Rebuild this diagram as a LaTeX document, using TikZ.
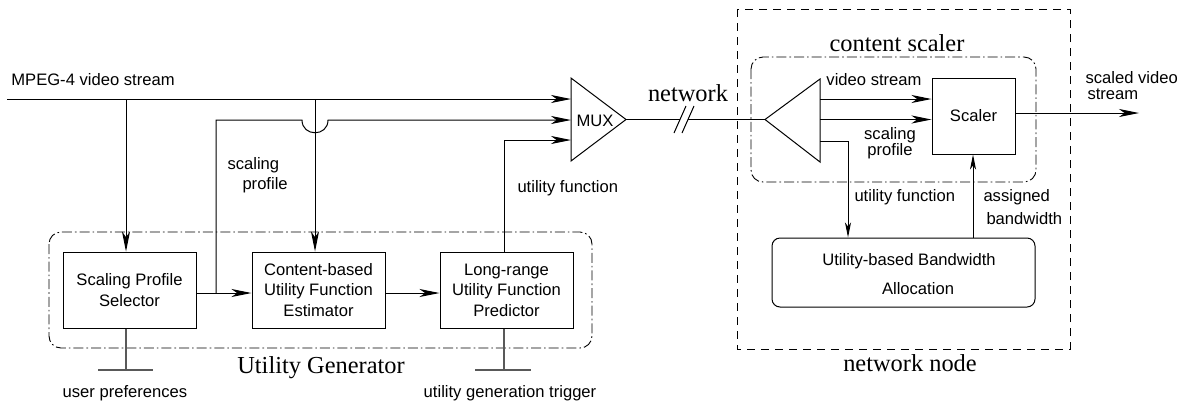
\documentclass[tikz,border=0pt]{standalone}
\usepackage{fontspec}
\setmainfont{Liberation Serif}
\setsansfont{Liberation Sans}
\usetikzlibrary{arrows.meta}
\begin{document}
\begin{tikzpicture}[x=0.5pt,y=-0.5pt,
  line width=0.5pt,
  lbl/.style={font=\sffamily\fontsize{8.3}{10}\selectfont, inner sep=0pt},
  big/.style={font=\rmfamily\fontsize{12.2}{14}\selectfont, inner sep=0pt},
  blk/.style={draw, minimum width=66.5pt, minimum height=38pt, inner sep=0pt, align=center, font=\sffamily\fontsize{8.3}{10.2}\selectfont},
  arr/.style={-{Stealth[length=10pt,width=4pt,inset=2.8pt]}},
  sarr/.style={-{Stealth[length=7.5pt,width=3pt,inset=2pt]}},
  dashdot/.style={line width=0.45pt, dash pattern=on 5pt off 1.5pt on 0.8pt off 1.5pt},
  gnd/.style={draw=black!65, line width=0.6pt}
]
\useasboundingbox (0,0) rectangle (1182,403);
\fill[white] (0,0) rectangle (1182,403);

% group frames
\draw[dashdot, rounded corners=6pt] (49,232) rectangle (592,348);
\draw[line width=0.45pt, dash pattern=on 4pt off 3pt] (737,9) rectangle (1070,349);
\draw[dashdot, rounded corners=6pt] (751,57) rectangle (1036,182);

% blocks
\node[blk] (sel)  at (129.5,290) {Scaling Profile\\Selector};
\node[blk] (est)  at (318.5,290) {Content-based\\Utility Function\\Estimator};
\node[blk] (pred) at (506.5,290) {Long-range\\Utility Function\\Predictor};
\node[draw, minimum width=41.5pt, minimum height=38pt, inner sep=0pt, font=\sffamily\fontsize{8.3}{10}\selectfont] (scaler) at (973.5,116) {Scaler};
\node[draw, rounded corners=4pt, minimum width=131.5pt, minimum height=34.5pt, inner sep=0pt] (uba) at (903.5,272.5) {};
\node[lbl] (uba1) at (909,261) {Utility-based Bandwidth};
\node[lbl] (uba2) at (918,289) {Allocation};

% MUX and receiver triangles
\draw (571,78) -- (626,119.5) -- (571,161) -- cycle;
\node[lbl] (mux) at (595,121) {MUX};
\draw (765,119.5) -- (820,79) -- (820,162) -- cycle;

\coordinate (src) at (7,99);
\coordinate (muxin1) at (571,99);
\coordinate (muxin2) at (571,120);
\coordinate (muxin3) at (571,140);
\coordinate (muxtip) at (626,119.5);
\coordinate (rxtip) at (765,119.5);
\coordinate (t1) at (126,99);
\coordinate (t2) at (315,99);
\coordinate (j1) at (216,293);
\coordinate (u1) at (504,140);
\coordinate (g1) at (126,370);
\coordinate (g2) at (504,370);
\coordinate (ro1) at (820,99);
\coordinate (ro2) at (820,119.5);
\coordinate (ro3) at (820,141);
\coordinate (k) at (848,141);
\coordinate (ab) at (973,200);
\coordinate (outend) at (1139,113);

% left side connectors
\draw[arr] (src) -- (muxin1);
\draw[arr] (t1) -- (t1 |- sel.north);
\draw[arr] (t2) -- (t2 |- est.north);
\draw[arr] (sel.east |- j1) -- (est.west |- j1);
\draw[arr] (est.east |- j1) -- (pred.west |- j1);
\draw[arr] (j1) -- (216,120) -- (302,120) .. controls (302,137) and (328,137) .. (328,120) -- (muxin2);
\draw[arr] (u1 |- pred.north) -- (u1) -- (muxin3);

% ground stubs
\draw[gnd] (g1 |- sel.south) -- (g1);
\draw[gnd] (98,370) -- (153,370);
\draw[gnd] (g2 |- pred.south) -- (g2);
\draw[gnd] (475,370) -- (531,370);

% network link
\draw (muxtip) -- (680,119.5);
\draw (688,119.5) -- (rxtip);
\draw (674,133) -- (686,106);
\draw (682,133) -- (694,106);

% right side connectors
\draw[arr] (ro1) -- (scaler.west |- ro1);
\draw[arr] (ro2) -- (scaler.west |- ro2);
\draw[sarr] (ro3) -- (k) -- (k |- uba.north);
\draw[sarr] (ab |- uba.north) -- (ab |- scaler.south);
\draw[arr] (scaler.east |- outend) -- (outend);

% labels
\node[lbl] (lmpeg) at (93,80) {MPEG-4 video stream};
\node[lbl, anchor=west] (lsp1) at (227,165) {scaling};
\node[lbl, anchor=west] (lsp2) at (242,185) {profile};
\node[lbl, anchor=west] (luf) at (517,188) {utility function};
\node[lbl] (lup) at (125,393) {user preferences};
\node[lbl] (lugt) at (510,393) {utility generation trigger};
\node[big] (lug) at (321,368) {Utility Generator};
\node[big] (lnet) at (688,93) {network};
\node[big] (lcs) at (897,43) {content scaler};
\node[big] (lnn) at (910,363) {network node};
\node[lbl] (lvs) at (874,80) {video stream};
\node[lbl] (lsp3) at (890,135) {scaling};
\node[lbl] (lsp4) at (890,151) {profile};
\node[lbl, anchor=west] (luf2) at (854,197) {utility function};
\node[lbl, anchor=west] (lab1) at (983,197) {assigned};
\node[lbl, anchor=west] (lab2) at (986,219) {bandwidth};
\node[lbl, anchor=west] (lsv1) at (1085,78) {scaled video};
\node[lbl, anchor=west] (lsv2) at (1087,94) {stream};
\end{tikzpicture}
\end{document}
